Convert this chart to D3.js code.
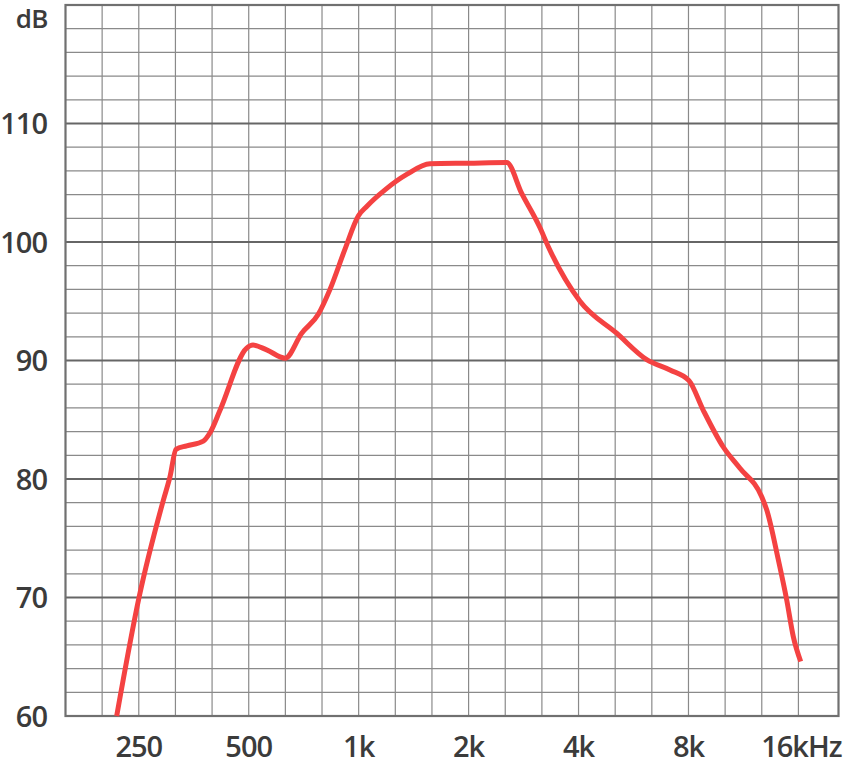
<!DOCTYPE html>
<html>
<head>
<meta charset="utf-8">
<script src="https://cdn.jsdelivr.net/npm/d3@7"></script>
<style>
  html, body { margin: 0; padding: 0; background: #fff; }
  svg text { font-family: "Open Sans", "Noto Sans", sans-serif; font-weight: 600; fill: #3b3b3b; }
</style>
</head>
<body>
<div id="chart"></div>
<script>
// frequency response
const freqs = [217.5, 250.8, 291.8, 304.4, 316.1, 338.2, 375.5, 391.7, 417.2, 493.6, 513.7, 560, 629.2,
    698.3, 775.2, 834.7, 917.5, 997.6, 1052, 1180.6, 1353.7, 1567.9, 2000, 2542.9, 2795.3, 3137.3, 3306,
    4036.7, 5087, 6147, 7120, 8026, 8782, 9962, 11069, 12693, 13099, 14092, 14860, 15492, 16232];
const levels = [60, 70.1, 78.2, 80.2, 82.5, 82.8, 83.2, 83.9, 85.8, 91.05, 91.3, 90.9, 90.2,
    92.3, 93.9, 96.0, 99.4, 102.2, 103.0, 104.4, 105.7, 106.6, 106.65, 106.7, 104.1, 101.2, 99.6,
    95.0, 92.3, 90.07, 89.2, 88.3, 85.8, 82.7, 80.9, 78.5, 77.4, 73.2, 69.8, 66.7, 64.6];

const xTicks = [250, 500, 1000, 2000, 4000, 8000, 16000];
const xTickLabels = ["250", "500", "1k", "2k", "4k", "8k", "16kHz"];
const yTicks = [60, 70, 80, 90, 100, 110];
const yUnit = "dB";

const width = 844, height = 766;
const freqMin = 157.5, freqMax = 20600;
const dbMin = 60, dbMax = 120;

const x = d3.scaleLog().domain([freqMin, freqMax]).range([65.5, 838.5]);
const y = d3.scaleLinear().domain([dbMin, dbMax]).range([716, 5]);

const svg = d3.select("#chart").append("svg").attr("width", width).attr("height", height);

// third-octave vertical grid
const vGrid = d3.range(-1, 19).map(k => 250 * Math.pow(2, k / 3));
svg.append("g").selectAll("line").data(vGrid).enter().append("line")
    .attr("x1", d => x(d)).attr("x2", d => x(d))
    .attr("y1", y(dbMax)).attr("y2", y(dbMin))
    .attr("stroke", "#8a8a8a").attr("stroke-width", 1.2);

// 2 dB horizontal grid, 10 dB heavier
const hGrid = d3.range(dbMin + 2, dbMax, 2);
svg.append("g").selectAll("line").data(hGrid).enter().append("line")
    .attr("x1", x(freqMin)).attr("x2", x(freqMax))
    .attr("y1", d => y(d)).attr("y2", d => y(d))
    .attr("stroke", d => d % 10 === 0 ? "#666" : "#8a8a8a")
    .attr("stroke-width", d => d % 10 === 0 ? 2.2 : 1.2);

// frame
svg.append("rect")
    .attr("x", x(freqMin)).attr("y", y(dbMax))
    .attr("width", x(freqMax) - x(freqMin)).attr("height", y(dbMin) - y(dbMax))
    .attr("fill", "none").attr("stroke", "#707070").attr("stroke-width", 2.2);

// axes labels
svg.append("g").selectAll("text").data(yTicks).enter().append("text")
    .attr("x", 47).attr("y", d => y(d)).attr("dy", "0.37em")
    .attr("text-anchor", "end").style("font-size", "29px").style("letter-spacing", "-1px")
    .text(d => d);
svg.append("text")
    .attr("x", 48).attr("y", y(dbMax) + 23)
    .attr("text-anchor", "end").style("font-size", "26px").style("letter-spacing", "-0.5px")
    .text(yUnit);

svg.append("g").selectAll("text").data(xTicks).enter().append("text")
    .attr("x", (d, i) => x(d) + (i === xTicks.length - 1 ? 3 : 0)).attr("y", 757)
    .attr("text-anchor", "middle").style("font-size", "29px").style("letter-spacing", "-1px")
    .text((d, i) => xTickLabels[i]);

// response curve
const line = d3.line()
    .x(d => x(d[0]))
    .y(d => y(d[1]))
    .curve(d3.curveMonotoneX);

svg.append("path")
    .datum(freqs.map((f, i) => [f, levels[i]]))
    .attr("d", line)
    .attr("fill", "none")
    .attr("stroke", "#f44242")
    .attr("stroke-width", 5)
    .attr("stroke-linejoin", "round");
</script>
</body>
</html>
